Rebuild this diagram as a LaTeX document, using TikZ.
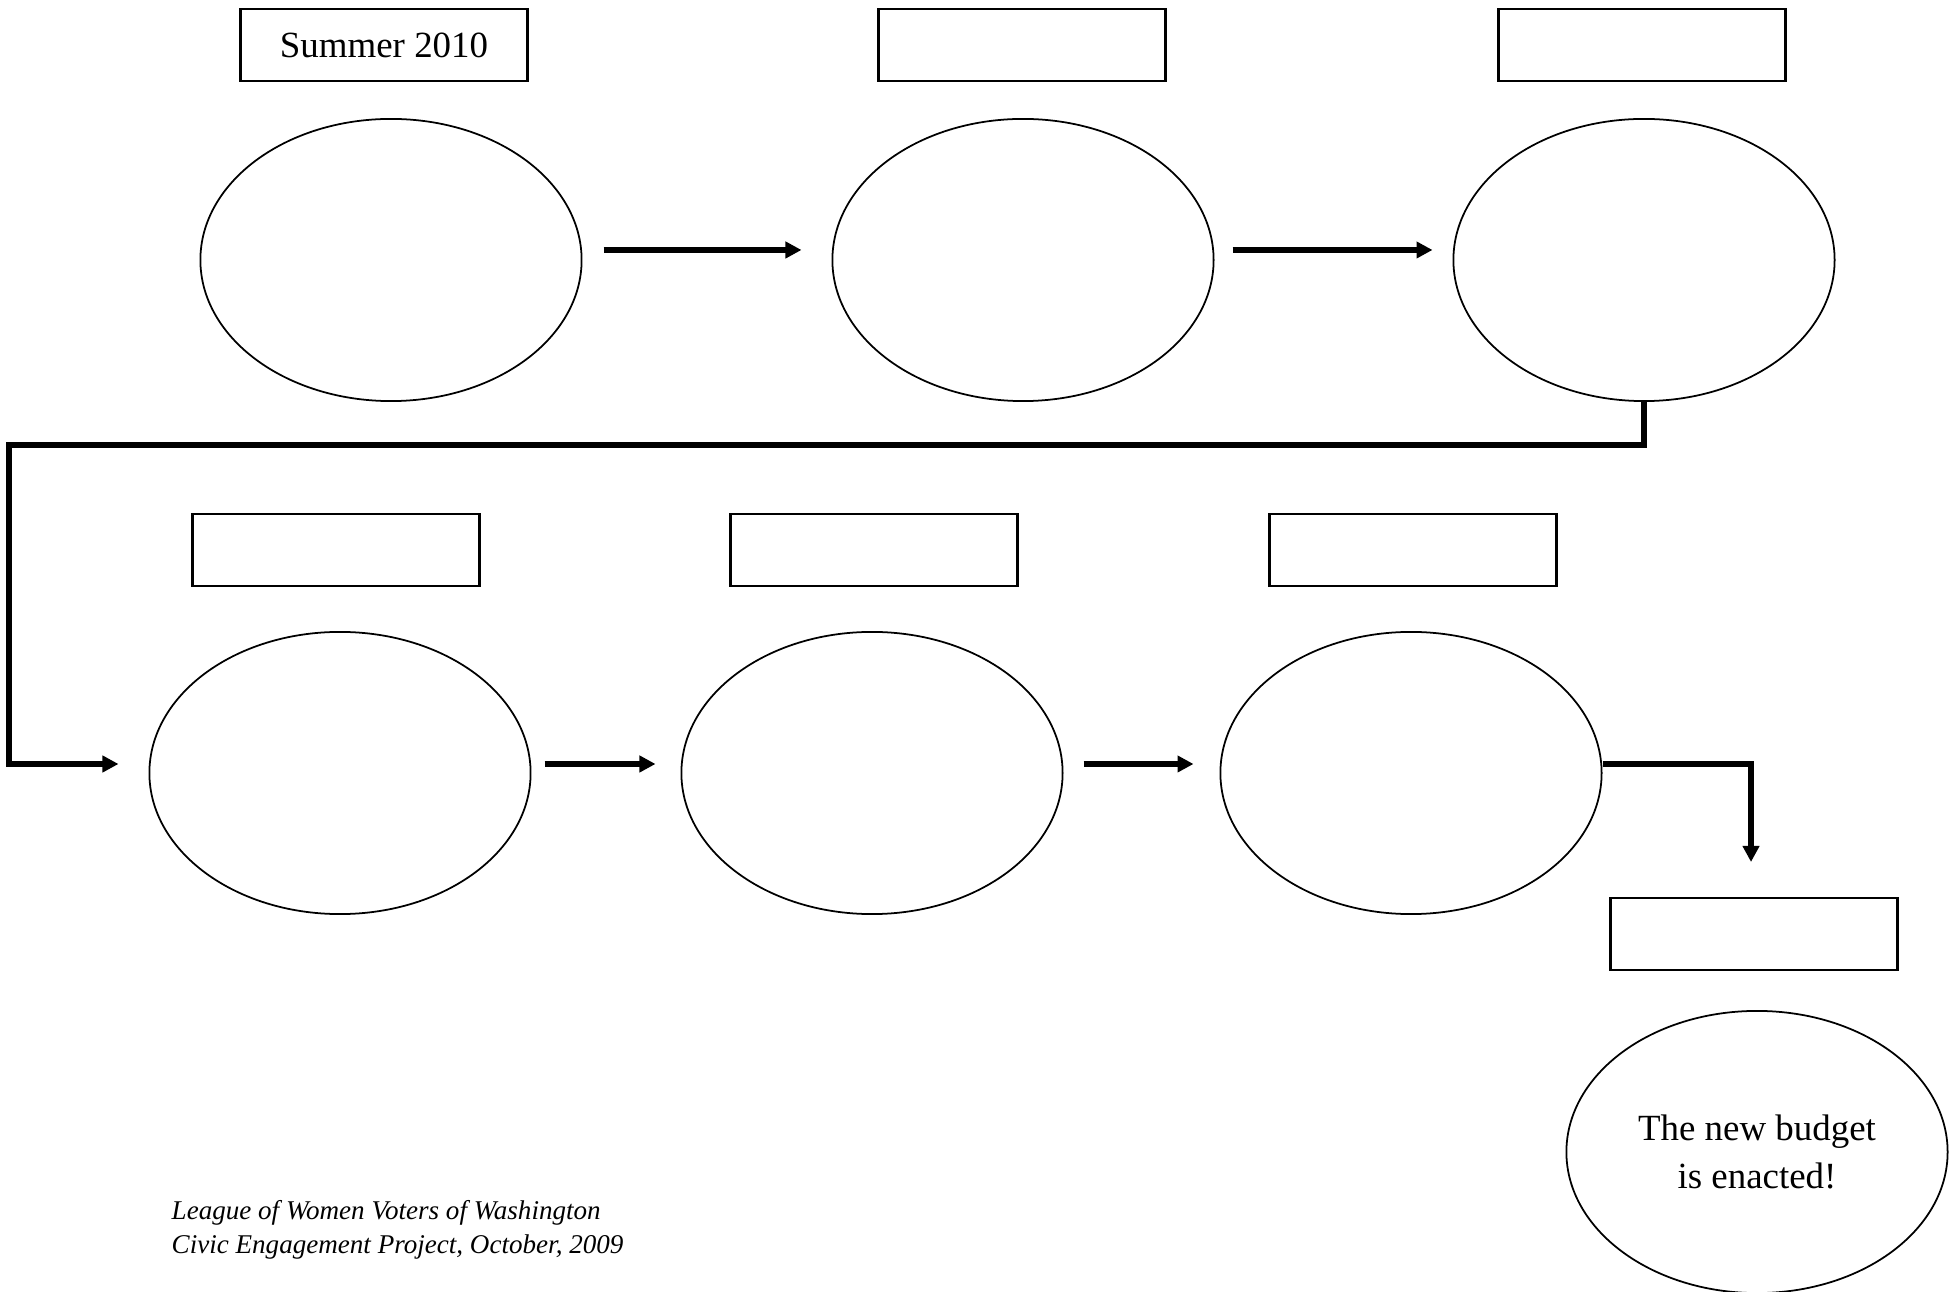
\documentclass[tikz,border=0pt]{standalone}
\usepackage{fontspec}
\setmainfont{Liberation Serif}
\usetikzlibrary{shapes.geometric,arrows.meta}
\newcommand{\datebox}[3]{%
 \node[labelbox] ({#1}) at ({#2}) {#3};%
}
\newcommand{\stage}[3]{%
 \node[stageoval] ({#1}) at ({#2}) {#3};%
}

\begin{document}
\begin{tikzpicture}[x=0.01cm,y=-0.01cm,
  every node/.style={font=\fontsize{10.5}{13.7}\selectfont},
  labelbox/.style={draw,line width=0.7pt,minimum width=2.87cm,minimum height=0.72cm,inner sep=0pt},
  stageoval/.style={draw,ellipse,line width=0.5pt,minimum width=3.81cm,minimum height=2.82cm,inner sep=0pt,align=center},
  flow/.style={line width=1.6pt,-{Triangle[length=0.16cm,width=0.16cm]}},
  credit/.style={anchor=base west,inner sep=0pt,font=\fontsize{7.7}{9.7}\selectfont\itshape}]
  \useasboundingbox (0,0) rectangle (1958,1292);
  % first row
  \datebox{d1}{384,45}{Summer 2010};
  \datebox{d2}{1022,45}{};
  \datebox{d3}{1642,45}{};
  \stage{s1}{391,260}{};
  \stage{s2}{1023,260}{};
  \stage{s3}{1644,260}{};
  % second row
  \datebox{d4}{336,550}{};
  \datebox{d5}{874,550}{};
  \datebox{d6}{1413,550}{};
  \stage{s4}{340,773}{};
  \stage{s5}{872,773}{};
  \stage{s6}{1411,773}{};
  % the end
  \datebox{d7}{1754,934}{};
  \stage{s7}{1757,1152}{The new budget\\is enacted!};
  \node[credit] (credit1) at (171,1219) {League of Women Voters of Washington};
  \node[credit] (credit2) at (171,1253) {Civic Engagement Project, October, 2009};
  \coordinate (wrapL) at (9,445);
  \coordinate (wrapB) at (9,764);
  \coordinate (drop) at (1751,898);
  \draw[flow,shorten <=0.21cm,shorten >=0.3cm] ([yshift=0.1cm]s1.east) -- ([yshift=0.1cm]s2.west);
  \draw[flow,shorten <=0.18cm,shorten >=0.2cm] ([yshift=0.1cm]s2.east) -- ([yshift=0.1cm]s3.west);
  \draw[flow,shorten >=0.3cm] (s3.south) |- (wrapL) -- (wrapB) -- (wrapB -| s4.west);
  \draw[flow,shorten <=0.13cm,shorten >=0.25cm] ([yshift=0.09cm]s4.east) -- ([yshift=0.09cm]s5.west);
  \draw[flow,shorten <=0.2cm,shorten >=0.26cm] ([yshift=0.09cm]s5.east) -- ([yshift=0.09cm]s6.west);
  \draw[flow,shorten >=0.36cm] ([yshift=0.09cm]s6.east) -| (drop);
\end{tikzpicture}
\end{document}
